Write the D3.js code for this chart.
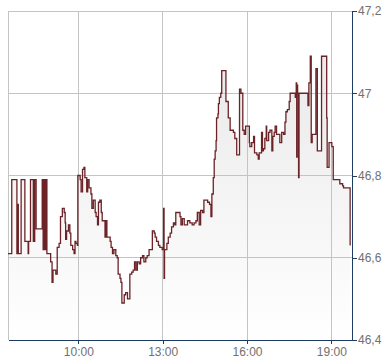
<!DOCTYPE html>
<html>
<head>
<meta charset="utf-8">
<script src="https://cdn.jsdelivr.net/npm/d3@7"></script>
<style>
    body { margin: 0; background: #fff; }
    .tick text { font-family: Arial, "Liberation Sans", sans-serif; font-size: 12px; fill: #707070; }
</style>
</head>
<body>
<div class="chart"></div>
<script>

// intraday quotes (time, price)
var times = ["07:30","07:38","07:49","07:51","07:52","07:58","08:06","08:13","08:14","08:18",
    "08:24","08:25","08:26","08:27","08:30","08:43","08:45","08:46","08:48","08:49",
    "08:50","08:51","08:53","09:01","09:04","09:06","09:12","09:15","09:19","09:22",
    "09:26","09:30","09:32","09:33","09:35","09:39","09:42","09:44","09:48","09:51",
    "09:53","09:55","09:58","09:59","10:04","10:06","10:09","10:12","10:14","10:18",
    "10:20","10:23","10:27","10:29","10:32","10:36","10:38","10:41","10:43","10:46",
    "10:49","10:51","10:57","10:58","10:59","11:00","11:01","11:08","11:10","11:13",
    "11:16","11:20","11:23","11:25","11:29","11:31","11:33","11:38","11:41","11:45",
    "11:50","11:54","11:57","12:00","12:03","12:06","12:10","12:13","12:17","12:20",
    "12:24","12:27","12:31","12:38","12:42","12:44","12:47","12:51","12:54","12:59",
    "13:02","13:03","13:04","13:09","13:12","13:16","13:19","13:23","13:26","13:28",
    "13:37","13:39","13:42","13:46","13:53","13:58","14:03","14:07","14:11","14:14",
    "14:18","14:21","14:25","14:28","14:36","14:40","14:43","14:45","14:48","14:50",
    "14:52","14:54","14:55","14:58","14:59","15:01","15:04","15:06","15:15","15:20",
    "15:24","15:31","15:34","15:38","15:44","15:47","15:51","15:54","15:57","16:05",
    "16:06","16:10","16:14","16:16","16:21","16:24","16:26","16:31","16:33","16:35",
    "16:38","16:41","16:42","16:46","16:49","16:53","16:55","16:58","17:00","17:03",
    "17:10","17:14","17:18","17:21","17:23","17:26","17:30","17:32","17:43","17:45",
    "17:46","17:47","17:48","17:50","17:51","18:10","18:12","18:15","18:17","18:19",
    "18:27","18:30","18:39","18:50","18:51","18:55","19:01","19:04","19:18","19:24",
    "19:26","19:40"];

var prices = [46.61,46.79,46.61,46.73,46.61,46.79,46.64,46.61,46.64,46.79,
    46.64,46.79,46.64,46.79,46.67,46.79,46.62,46.79,46.62,46.79,
    46.62,46.79,46.61,46.59,46.54,46.57,46.56,46.625,46.635,46.70,
    46.72,46.71,46.685,46.645,46.665,46.68,46.66,46.63,46.62,46.61,
    46.64,46.635,46.63,46.80,46.79,46.76,46.815,46.82,46.795,46.76,
    46.79,46.77,46.755,46.72,46.74,46.71,46.70,46.68,46.735,46.74,
    46.71,46.69,46.65,46.69,46.65,46.69,46.65,46.64,46.625,46.61,
    46.62,46.605,46.60,46.56,46.55,46.54,46.49,46.51,46.515,46.50,
    46.56,46.565,46.57,46.59,46.57,46.59,46.585,46.60,46.605,46.59,
    46.60,46.605,46.62,46.665,46.66,46.65,46.64,46.63,46.625,46.62,
    46.72,46.55,46.62,46.635,46.65,46.66,46.675,46.685,46.68,46.71,
    46.70,46.68,46.695,46.68,46.69,46.685,46.68,46.685,46.69,46.71,
    46.68,46.715,46.71,46.74,46.735,46.73,46.70,46.755,46.795,46.84,
    46.86,46.885,46.94,46.95,46.975,46.99,47.00,47.055,46.98,46.94,
    46.91,46.905,46.89,46.85,47.01,47.00,46.91,46.90,46.92,46.88,
    46.87,46.88,46.895,46.855,46.85,46.84,46.855,46.905,46.86,46.865,
    46.89,46.92,46.885,46.905,46.91,46.86,46.895,46.905,46.92,46.90,
    46.88,46.905,46.90,46.93,46.955,46.96,46.98,47.00,46.99,47.025,
    46.845,47.02,47.00,46.795,47.00,46.97,47.025,47.09,46.88,46.90,
    47.06,46.86,47.09,46.94,46.82,46.88,46.87,46.79,46.78,46.775,
    46.77,46.63];

var yTicks = [46.4, 46.6, 46.8, 47.0, 47.2];
var xTicks = ["10:00", "13:00", "16:00", "19:00"];
var xStart = "07:30", xEnd = "19:44";

var margin = { top: 11, right: 38, bottom: 24, left: 8 };
var w = 390, h = 364;
var width = w - margin.left - margin.right,
    height = h - margin.top - margin.bottom;

var parseTime = d3.timeParse("%H:%M");
var data = times.map(function(t, i){ return { t: parseTime(t), v: prices[i] }; });

var svg = d3.select(".chart").append("svg")
    .attr("width", w)
    .attr("height", h);

var g = svg.append("g")
    .attr("transform", "translate(" + margin.left + "," + margin.top + ")");

var x = d3.scaleTime()
    .domain([parseTime(xStart), parseTime(xEnd)])
    .range([0, width]);

var y = d3.scaleLinear()
    .domain([yTicks[0], yTicks[yTicks.length - 1]])
    .range([height, 0]);

// fill gradient
var grad = svg.append("defs").append("linearGradient")
    .attr("id", "fillGrad")
    .attr("gradientUnits", "userSpaceOnUse")
    .attr("x1", 0).attr("y1", 0)
    .attr("x2", 0).attr("y2", height);
grad.append("stop").attr("offset", "0%").attr("stop-color", "#e6e6e6");
grad.append("stop").attr("offset", "100%").attr("stop-color", "#ffffff");

// grid
var grid = g.append("g").attr("shape-rendering", "crispEdges");

grid.selectAll("line.hgrid")
    .data(yTicks.slice(1))
    .enter().append("line")
    .attr("class", "hgrid")
    .attr("x1", 0).attr("x2", width)
    .attr("y1", function(d){ return y(d); })
    .attr("y2", function(d){ return y(d); })
    .attr("stroke", "#c4c4c4");

grid.selectAll("line.vgrid")
    .data([xStart].concat(xTicks))
    .enter().append("line")
    .attr("class", "vgrid")
    .attr("x1", function(d){ return x(parseTime(d)); })
    .attr("x2", function(d){ return x(parseTime(d)); })
    .attr("y1", 0).attr("y2", height)
    .attr("stroke", "#c4c4c4");

// area + line
var area = d3.area()
    .curve(d3.curveStepAfter)
    .x(function(d){ return x(d.t); })
    .y0(height)
    .y1(function(d){ return y(d.v); });

var line = d3.line()
    .curve(d3.curveStepAfter)
    .x(function(d){ return x(d.t); })
    .y(function(d){ return y(d.v); });

g.append("path")
    .datum(data)
    .attr("d", area)
    .attr("fill", "url(#fillGrad)");

// redraw the grid lines that sit over the fill (they show through in the original)
grid.raise();
grid.selectAll("line").attr("stroke-opacity", 1);

g.append("path")
    .datum(data)
    .attr("d", line)
    .attr("fill", "none")
    .attr("stroke", "#6b2327")
    .attr("stroke-width", 1.3);

// axes
var fmt = function(d){ return d3.format("~g")(d).replace(".", ","); };
var axisColor = "#1d3b63";

var yAxis = g.append("g")
    .attr("transform", "translate(" + width + ",0)")
    .call(d3.axisRight(y).tickValues(yTicks).tickSize(5).tickSizeOuter(0).tickPadding(1).tickFormat(fmt));

var xAxis = g.append("g")
    .attr("transform", "translate(0," + height + ")")
    .call(d3.axisBottom(x).tickValues(xTicks.map(parseTime)).tickSize(4).tickSizeOuter(0).tickPadding(3)
        .tickFormat(d3.timeFormat("%H:%M")));

[xAxis, yAxis].forEach(function(a){
    a.attr("shape-rendering", "crispEdges");
    a.select(".domain").attr("stroke", axisColor).attr("stroke-width", 1.5);
    a.selectAll(".tick line").attr("stroke", axisColor);
});

</script>
</body>
</html>
